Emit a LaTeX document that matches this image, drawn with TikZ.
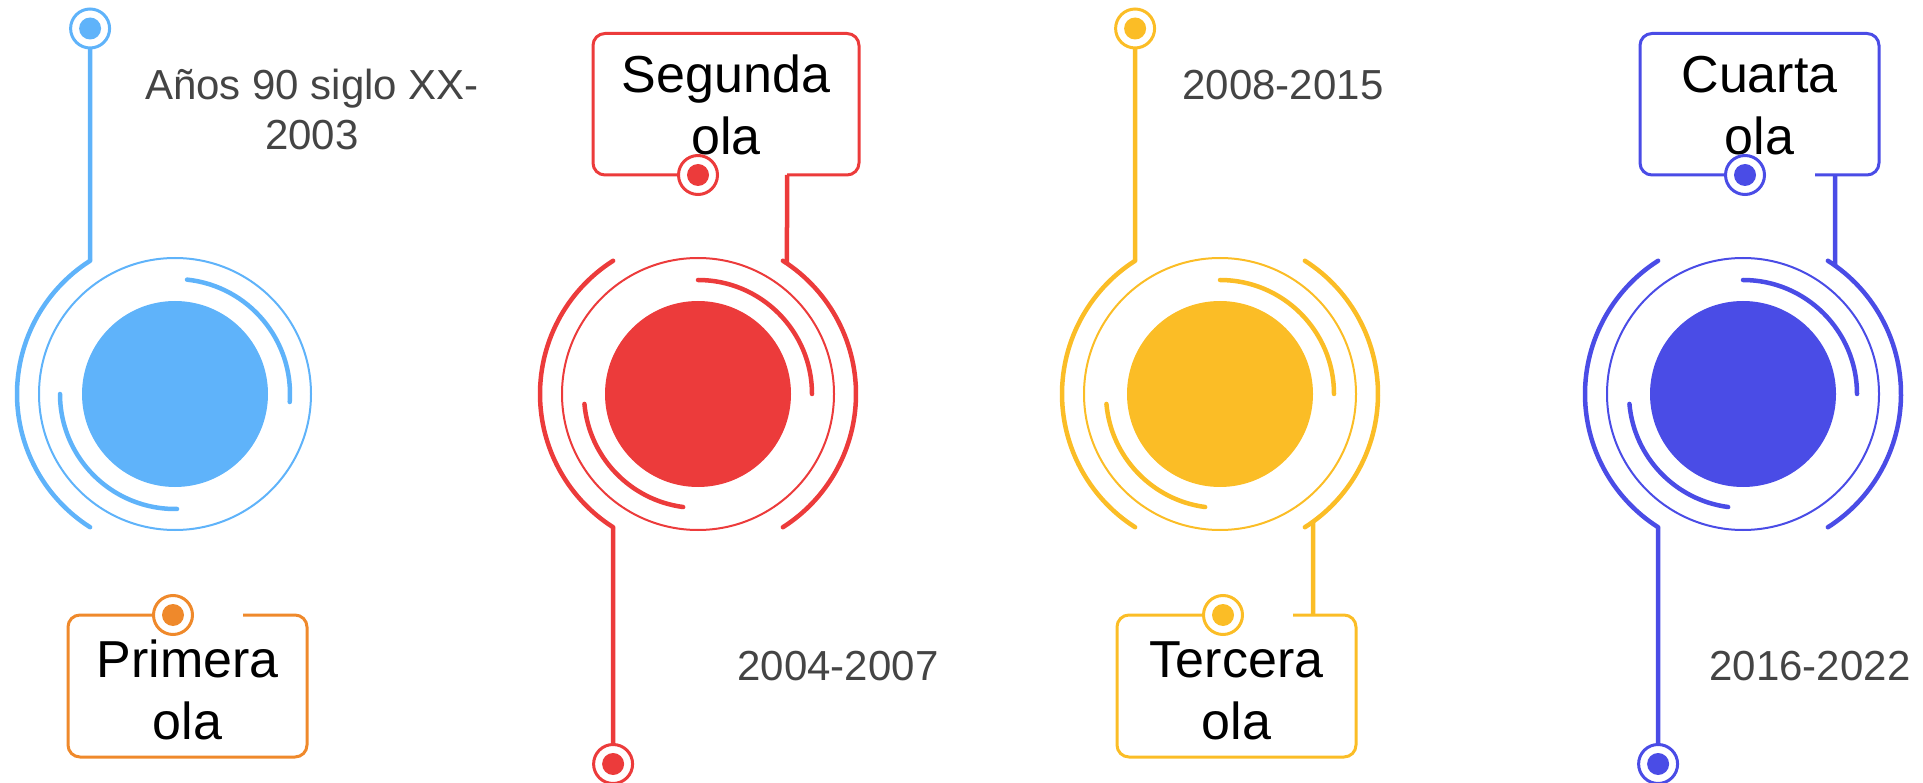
\documentclass[tikz,border=0pt]{standalone}
\usepackage{fontspec}
\setmainfont{Liberation Sans}
\usetikzlibrary{calc}
\definecolor{cBlue}{RGB}{95,179,250}
\definecolor{cRed}{RGB}{236,59,59}
\definecolor{cYellow}{RGB}{251,189,38}
\definecolor{cViolet}{RGB}{74,76,230}
\definecolor{cOrange}{RGB}{239,137,43}
\definecolor{cGray}{RGB}{68,68,68}
\begin{document}
\begin{tikzpicture}[x=1pt,y=1pt,
  discfill/.style={circle, fill=#1, minimum size=186pt, inner sep=0pt, outer sep=0pt},
  ringthin/.style={draw=#1, line width=2pt},
  arcthick/.style={draw=#1, line width=4.5pt, line cap=round},
  dotring/.style={circle, draw=#1, line width=3pt, minimum size=39pt, inner sep=0pt, outer sep=0pt},
  boxline/.style={draw=#1, line width=3pt, rounded corners=12pt},
  datetxt/.style={text=cGray, font=\fontsize{42}{50}\selectfont, align=center, inner sep=0pt, anchor=base},
  titletxt/.style={text=black, font=\fontsize{52}{62}\selectfont, align=center, inner sep=0pt, anchor=base},
]
\useasboundingbox (0,0) rectangle (1923,-783);

% ---------- Group 1 (blue) ----------
\node[discfill=cBlue] (c1) at (175,-394) {};
\draw[ringthin=cBlue] (c1.center) circle (136);
\draw[arcthick=cBlue] (c1.center) ++(122.5:158) coordinate (c1tl) arc[start angle=122.5, end angle=237.5, radius=158];
\draw[arcthick=cBlue] (c1.center) ++(84:115) arc[start angle=84, end angle=-4, radius=115];
\draw[arcthick=cBlue] (c1.center) ++(180:115) arc[start angle=180, end angle=271, radius=115];
\node[dotring=cBlue] (d1) at (90.1,-28.5) {};
\fill[cBlue] (d1.center) circle (11);
\draw[arcthick=cBlue, line cap=butt] (d1.south) -- (c1tl);
\node[datetxt] (t1) at (312,-150) {Años 90 siglo XX-\\2003};

\node[titletxt] (b1) at (187.5,-739) {Primera\\ola};
\node[dotring=cOrange] (d2) at (173,-615) {};
\fill[cOrange] (d2.center) circle (11);
\draw[boxline=cOrange] (243,-615) -- (307,-615) -- (307,-757) -- (68,-757) -- (68,-615) -- (d2.west);

% ---------- Group 2 (red) ----------
\node[discfill=cRed] (c2) at (698,-394) {};
\draw[ringthin=cRed] (c2.center) circle (136);
\draw[arcthick=cRed] (c2.center) ++(122.5:158) arc[start angle=122.5, end angle=237.5, radius=158] coordinate (c2bl);
\draw[arcthick=cRed] (c2.center) ++(57.5:158) arc[start angle=57.5, end angle=-57.5, radius=158];
\draw[arcthick=cRed] (c2.center) ++(90:114) arc[start angle=90, end angle=0, radius=114];
\draw[arcthick=cRed] (c2.center) ++(185:114) arc[start angle=185, end angle=262.5, radius=114];
\coordinate (c2r) at ($(c2.center)+(55.72:158)$);
\node[dotring=cRed] (d3) at (613.1,-764) {};
\fill[cRed] (d3.center) circle (11);
\draw[arcthick=cRed, line cap=butt] (c2bl) -- (d3.north);
\node[datetxt] (t2) at (838,-680) {2004-2007};

\node[titletxt] (b2) at (726,-155) {Segunda\\ola};
\node[dotring=cRed] (d4) at (698,-175) {};
\fill[cRed] (d4.center) circle (11);
\coordinate (s2) at (787,-175);
\draw[boxline=cRed] (s2) -- (859,-175) -- (859,-33.5) -- (593,-33.5) -- (593,-175) -- (d4.west);
\draw[arcthick=cRed, line cap=butt] (s2) -- (c2r);

% ---------- Group 3 (yellow) ----------
\node[discfill=cYellow] (c3) at (1220,-394) {};
\draw[ringthin=cYellow] (c3.center) circle (136);
\draw[arcthick=cYellow] (c3.center) ++(122.5:158) coordinate (c3tl) arc[start angle=122.5, end angle=237.5, radius=158];
\draw[arcthick=cYellow] (c3.center) ++(57.5:158) arc[start angle=57.5, end angle=-57.5, radius=158];
\draw[arcthick=cYellow] (c3.center) ++(90:114) arc[start angle=90, end angle=0, radius=114];
\draw[arcthick=cYellow] (c3.center) ++(185:114) arc[start angle=185, end angle=262.5, radius=114];
\coordinate (c3r) at ($(c3.center)+(-53.94:158)$);
\node[dotring=cYellow] (d5) at (1135.1,-28.5) {};
\fill[cYellow] (d5.center) circle (11);
\draw[arcthick=cYellow, line cap=butt] (d5.south) -- (c3tl);
\node[datetxt] (t3) at (1283,-100) {2008-2015};

\node[titletxt] (b3) at (1236.5,-739) {Tercera\\ola};
\node[dotring=cYellow] (d6) at (1223,-615) {};
\fill[cYellow] (d6.center) circle (11);
\coordinate (s3) at (1293,-615);
\coordinate (s3v) at (1313,-615);
\draw[boxline=cYellow] (s3) -- (1356,-615) -- (1356,-757) -- (1117,-757) -- (1117,-615) -- (d6.west);
\draw[arcthick=cYellow, line cap=butt] (s3v) -- (c3r);

% ---------- Group 4 (violet) ----------
\node[discfill=cViolet] (c4) at (1743,-394) {};
\draw[ringthin=cViolet] (c4.center) circle (136);
\draw[arcthick=cViolet] (c4.center) ++(122.5:158) arc[start angle=122.5, end angle=237.5, radius=158] coordinate (c4bl);
\draw[arcthick=cViolet] (c4.center) ++(57.5:158) arc[start angle=57.5, end angle=-57.5, radius=158];
\draw[arcthick=cViolet] (c4.center) ++(90:114) arc[start angle=90, end angle=0, radius=114];
\draw[arcthick=cViolet] (c4.center) ++(185:114) arc[start angle=185, end angle=262.5, radius=114];
\coordinate (c4r) at ($(c4.center)+(54.39:158)$);
\node[dotring=cViolet] (d7) at (1658.1,-764) {};
\fill[cViolet] (d7.center) circle (11);
\draw[arcthick=cViolet, line cap=butt] (c4bl) -- (d7.north);
\node[datetxt] (t4) at (1810,-680) {2016-2022};

\node[titletxt] (b4) at (1759.5,-155) {Cuarta\\ola};
\node[dotring=cViolet] (d8) at (1745,-175) {};
\fill[cViolet] (d8.center) circle (11);
\coordinate (s4) at (1815,-175);
\coordinate (s4v) at (1835,-175);
\draw[boxline=cViolet] (s4) -- (1879,-175) -- (1879,-33.5) -- (1640,-33.5) -- (1640,-175) -- (d8.west);
\draw[arcthick=cViolet, line cap=butt] (s4v) -- (c4r);
\end{tikzpicture}
\end{document}
